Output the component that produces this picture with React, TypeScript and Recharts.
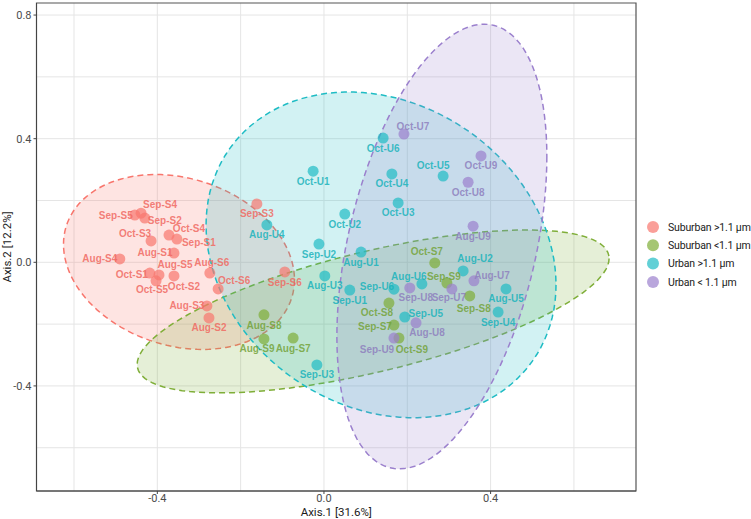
import React from 'react';
import { ScatterChart, Scatter, XAxis, YAxis, CartesianGrid, ReferenceArea, Label } from 'recharts';

// PCoA coordinates (Axis.1, Axis.2)
const suburbanLarge = [
  { id: 'Aug-S1', x: -0.360, y: 0.030 },
  { id: 'Aug-S2', x: -0.276, y: -0.180 },
  { id: 'Aug-S3', x: -0.281, y: -0.141 },
  { id: 'Aug-S4', x: -0.490, y: 0.011 },
  { id: 'Aug-S5', x: -0.396, y: -0.041 },
  { id: 'Aug-S6', x: -0.274, y: -0.035 },
  { id: 'Sep-S1', x: -0.353, y: 0.075 },
  { id: 'Sep-S2', x: -0.430, y: 0.143 },
  { id: 'Sep-S3', x: -0.161, y: 0.189 },
  { id: 'Sep-S4', x: -0.439, y: 0.159 },
  { id: 'Sep-S5', x: -0.454, y: 0.153 },
  { id: 'Sep-S6', x: -0.094, y: -0.031 },
  { id: 'Oct-S1', x: -0.418, y: -0.035 },
  { id: 'Oct-S2', x: -0.360, y: -0.044 },
  { id: 'Oct-S3', x: -0.415, y: 0.069 },
  { id: 'Oct-S4', x: -0.372, y: 0.088 },
  { id: 'Oct-S5', x: -0.403, y: -0.060 },
  { id: 'Oct-S6', x: -0.254, y: -0.086 },
];

const suburbanSmall = [
  { id: 'Aug-S7', x: -0.074, y: -0.245 },
  { id: 'Aug-S8', x: -0.144, y: -0.170 },
  { id: 'Aug-S9', x: -0.144, y: -0.248 },
  { id: 'Sep-S7', x: 0.168, y: -0.203 },
  { id: 'Sep-S8', x: 0.350, y: -0.109 },
  { id: 'Sep-S9', x: 0.295, y: -0.067 },
  { id: 'Oct-S7', x: 0.266, y: -0.002 },
  { id: 'Oct-S8', x: 0.156, y: -0.132 },
  { id: 'Oct-S9', x: 0.180, y: -0.245 },
];

const urbanLarge = [
  { id: 'Aug-U1', x: 0.089, y: 0.033 },
  { id: 'Aug-U2', x: 0.334, y: -0.028 },
  { id: 'Aug-U3', x: 0.002, y: -0.044 },
  { id: 'Aug-U4', x: -0.137, y: 0.121 },
  { id: 'Aug-U5', x: 0.437, y: -0.086 },
  { id: 'Aug-U6', x: 0.235, y: -0.070 },
  { id: 'Sep-U1', x: 0.062, y: -0.090 },
  { id: 'Sep-U2', x: -0.012, y: 0.059 },
  { id: 'Sep-U3', x: -0.017, y: -0.332 },
  { id: 'Sep-U4', x: 0.418, y: -0.161 },
  { id: 'Sep-U5', x: 0.194, y: -0.177 },
  { id: 'Sep-U6', x: 0.168, y: -0.087 },
  { id: 'Oct-U1', x: -0.026, y: 0.295 },
  { id: 'Oct-U2', x: 0.050, y: 0.156 },
  { id: 'Oct-U3', x: 0.178, y: 0.192 },
  { id: 'Oct-U4', x: 0.163, y: 0.286 },
  { id: 'Oct-U5', x: 0.286, y: 0.279 },
  { id: 'Oct-U6', x: 0.142, y: 0.402 },
];

const urbanSmall = [
  { id: 'Aug-U7', x: 0.360, y: -0.060 },
  { id: 'Aug-U8', x: 0.221, y: -0.196 },
  { id: 'Aug-U9', x: 0.358, y: 0.117 },
  { id: 'Sep-U7', x: 0.307, y: -0.086 },
  { id: 'Sep-U8', x: 0.206, y: -0.083 },
  { id: 'Sep-U9', x: 0.168, y: -0.245 },
  { id: 'Oct-U7', x: 0.192, y: 0.415 },
  { id: 'Oct-U8', x: 0.346, y: 0.259 },
  { id: 'Oct-U9', x: 0.377, y: 0.344 },
];

// confidence ellipses: centre and two conjugate half-axes, in data units
const ellipseCentres = [[-0.348, 0.001], [0.118, -0.159], [0.137, 0.024], [0.283, 0.051]];
const ellipseAxisU = [[0.2772, -0.0572], [0.5664, 0.1714], [0.420, -0.097], [0.252, 0.291]];
const ellipseAxisV = [[0, -0.2772], [0, -0.2002], [0, -0.518], [0, -0.658]];

const groupNames = ['Suburban >1.1 μm', 'Suburban <1.1 μm', 'Urban >1.1 μm', 'Urban < 1.1 μm'];
const groupData = [suburbanLarge, suburbanSmall, urbanLarge, urbanSmall];
const colors = ['#F8766D', '#7FAE38', '#1FBCC4', '#9B80CD'];
const labelColors = ['#F06A62', '#74A33A', '#1AB3BB', '#8E7FBE'];

const xTicks = [-0.4, 0, 0.4];
const yTicks = [-0.4, 0, 0.4, 0.8];
const xGrid = [-0.6, -0.4, -0.2, 0, 0.2, 0.4, 0.6];
const yGrid = [-0.6, -0.4, -0.2, 0, 0.2, 0.4, 0.6, 0.8];
const xDomain: [number, number] = [-0.69, 0.749];
const yDomain: [number, number] = [-0.74, 0.839];

// label offsets in px (repelled labels)
const labelNudge: Record<string, [number, number]> = {
  'Sep-S5': [-19, 0], 'Sep-S4': [19, -9], 'Sep-S2': [20, 2], 'Oct-S3': [-16, -7],
  'Oct-S4': [20, -7], 'Sep-S1': [22, 3], 'Aug-S1': [-19, -1], 'Aug-S4': [-20, 0],
  'Aug-S5': [16, -10], 'Oct-S1': [-18, 1], 'Oct-S5': [-4, 9], 'Oct-S2': [10, 11],
  'Aug-S6': [2, -11], 'Oct-S6': [16, -8], 'Aug-S3': [-20, 0], 'Aug-S2': [0, 10],
  'Sep-S3': [0, 10], 'Sep-S6': [0, 11],
  'Aug-S8': [0, 11], 'Aug-S9': [-7, 10], 'Aug-S7': [0, 10], 'Oct-S7': [-8, -11],
  'Sep-S9': [-3, -7], 'Sep-S8': [4, 13], 'Oct-S8': [-12, 9], 'Sep-S7': [-19, 1], 'Oct-S9': [13, 11],
  'Oct-U5': [-10, -11], 'Aug-U2': [12, -12], 'Aug-U6': [-13, -7], 'Sep-U6': [-17, -3],
  'Sep-U5': [21, -4], 'Oct-U7': [9, -8], 'Aug-U7': [18, -5], 'Sep-U7': [-3, 9],
  'Sep-U8': [6, 10], 'Aug-U8': [11, 10], 'Sep-U9': [-17, 11],
};

function ellipseOutline(i: number) {
  const [cx, cy] = ellipseCentres[i];
  const [ux, uy] = ellipseAxisU[i];
  const [vx, vy] = ellipseAxisV[i];
  const pts = [];
  for (let k = 0; k < 120; k++) {
    const t = (2 * Math.PI * k) / 120;
    pts.push({ x: cx + ux * Math.cos(t) + vx * Math.sin(t), y: cy + uy * Math.cos(t) + vy * Math.sin(t) });
  }
  return pts;
}

const uiFont = 'Roboto, sans-serif';
const tickStyle = { fontFamily: uiFont, fontSize: 11, fill: '#4D4D4D' };

export default function App() {
  return (
    <div style={{ position: 'absolute', left: 0, top: 0, width: 751, height: 519, background: '#fff' }}>
      <ScatterChart width={751} height={519} margin={{ top: 3, right: 115, bottom: 0, left: 0 }}>
        <CartesianGrid stroke="#E5E5E5" strokeWidth={1} verticalValues={xGrid} horizontalValues={yGrid} />
        <XAxis
          type="number"
          dataKey="x"
          domain={xDomain}
          allowDataOverflow
          ticks={xTicks}
          tickFormatter={(v: number) => v.toFixed(1)}
          height={28}
          tickSize={3}
          tickMargin={0}
          stroke="#444"
          tick={tickStyle}
        >
          <Label
            content={({ viewBox }: any) => (
              <text x={viewBox.x + viewBox.width / 2} y={516} textAnchor="middle" fontFamily={uiFont} fontSize={11.5} fill="#1a1a1a">
                Axis.1   [31.6%]
              </text>
            )}
          />
        </XAxis>
        <YAxis
          type="number"
          dataKey="y"
          domain={yDomain}
          allowDataOverflow
          ticks={yTicks}
          tickFormatter={(v: number) => v.toFixed(1)}
          width={36.5}
          tickSize={3}
          tickMargin={2}
          stroke="#444"
          tick={tickStyle}
        >
          <Label
            content={({ viewBox }: any) => {
              const cy = viewBox.y + viewBox.height / 2;
              return (
                <text x={11} y={cy} transform={`rotate(-90, 11, ${cy})`} textAnchor="middle" fontFamily={uiFont} fontSize={11.5} fill="#1a1a1a">
                  Axis.2   [12.2%]
                </text>
              );
            }}
          />
        </YAxis>
        <ReferenceArea x1={xDomain[0]} x2={xDomain[1]} y1={yDomain[0]} y2={yDomain[1]} fill="none" stroke="#555" strokeWidth={1.2} />
        {groupNames.map((g, i) => (
          <Scatter
            key={'ell' + i}
            data={ellipseOutline(i)}
            legendType="none"
            isAnimationActive={false}
            shape={() => <g />}
            line={(p: any) => (
              <path
                d={'M' + p.points.map((q: any) => `${q.x},${q.y}`).join('L') + 'Z'}
                fill={colors[i]}
                fillOpacity={0.2}
                stroke={colors[i]}
                strokeWidth={1.5}
                strokeDasharray="6 4"
              />
            )}
          />
        ))}
        {groupNames.map((g, i) => (
          <Scatter
            key={'pt' + i}
            name={g}
            data={groupData[i]}
            fill={colors[i]}
            isAnimationActive={false}
            shape={(p: any) => <circle cx={p.cx} cy={p.cy} r={5.5} fill={colors[i]} fillOpacity={0.7} />}
          />
        ))}
        {groupNames.map((g, i) => (
          <Scatter
            key={'lb' + i}
            data={groupData[i]}
            legendType="none"
            isAnimationActive={false}
            shape={(p: any) => {
              const [dx, dy] = labelNudge[p.payload.id] ?? [0, 10];
              return (
                <text
                  x={p.cx + dx}
                  y={p.cy + dy}
                  dy="0.35em"
                  textAnchor="middle"
                  fontFamily="Liberation Sans"
                  fontWeight="bold"
                  fontSize={10}
                  fill={labelColors[i]}
                  fillOpacity={0.85}
                >
                  {p.payload.id}
                </text>
              );
            }}
          />
        ))}
      </ScatterChart>
      <svg width={106} height={80} style={{ position: 'absolute', left: 645, top: 219 }}>
        {groupNames.map((g, i) => (
          <g key={g}>
            <circle cx={8} cy={8 + i * 18.3} r={6} fill={colors[i]} fillOpacity={0.7} />
            <text x={23} y={8 + i * 18.3} dy="0.35em" fontFamily={uiFont} fontSize={10.5} letterSpacing={-0.15} fill="#1a1a1a">
              {g}
            </text>
          </g>
        ))}
      </svg>
    </div>
  );
}
